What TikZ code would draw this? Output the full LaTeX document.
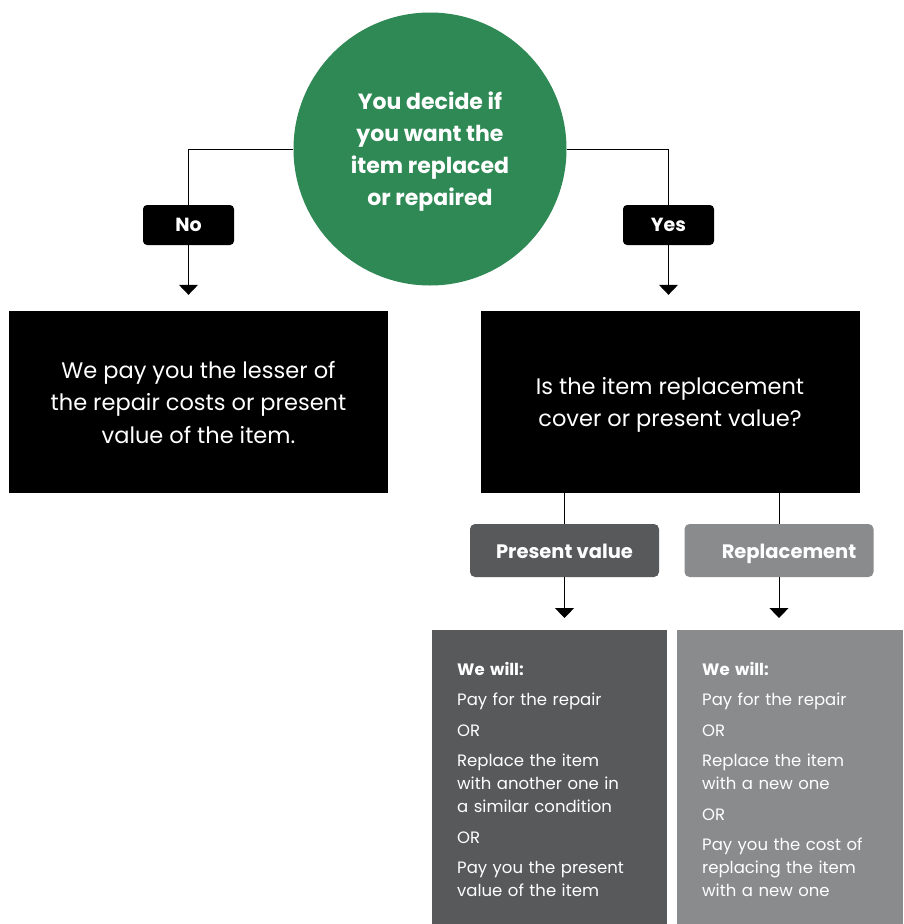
\documentclass[tikz,border=0pt]{standalone}
\usepackage{fontspec}
\setmainfont{Poppins}
\usetikzlibrary{arrows.meta,positioning}
\definecolor{decidegreen}{RGB}{46,137,84}
\definecolor{darkgrey}{RGB}{88,89,91}
\definecolor{lightgrey}{RGB}{138,139,141}

\begin{document}
\begin{tikzpicture}[x=1pt, y=-1pt,
  decision/.style={circle, fill=decidegreen, text=white, minimum size=273pt, inner sep=0pt, text depth=-0.5pt, align=center, font=\fontsize{22}{32}\selectfont\bfseries},
  answer/.style={fill=black, text=white, rounded corners=4pt, minimum width=91pt, minimum height=40pt, inner sep=0pt, font=\fontsize{19}{20}\selectfont\bfseries},
  outcome/.style={fill=black, text=white, minimum width=379pt, minimum height=182pt, inner sep=0pt, align=center, font=\fontsize{22.5}{32.5}\selectfont},
  covertag/.style={text=white, rounded corners=5pt, minimum width=189pt, minimum height=53pt, inner sep=0pt, text height=20pt, text depth=4pt, font=\fontsize{19.5}{20}\selectfont\bfseries},
  panel/.style={minimum width=235pt, minimum height=294pt, inner sep=0pt, anchor=north west},
  paneltext/.style={text=white, anchor=north west, text width=205pt, align=left, inner sep=0pt, font=\fontsize{16.5}{23}\selectfont},
  link/.style={line width=1pt},
  arr/.style={link, -{Triangle[width=19pt,length=10pt]}}
]
\useasboundingbox (0,0) rectangle (903,924);

% question and answers
\node[decision] (decide) at (430,149) {You decide if\\you want the\\item replaced\\or repaired};
\node[answer] (no) at (188.5,225) {No};
\node[answer] (yes) at (668.5,225) {Yes};

% outcomes
\node[outcome] (lesser) at (198.5,402) {We pay you the lesser of\\the repair costs or present\\value of the item.};
\node[outcome, text depth=-2pt] (cover) at (670,402) {Is the item replacement\\cover or present value?};

\node[covertag, fill=darkgrey] (present) at (564.5,550.5) {Present value};
\node[covertag, fill=lightgrey] (replace) at (779,550.5) {\hspace*{20pt}Replacement};

% what we will do
\node[panel, fill=darkgrey] (presentpanel) at (432,630) {};
\node[panel, fill=lightgrey, minimum width=226pt] (replacepanel) at (677,630) {};

\node[paneltext, below right=32pt and 25pt of presentpanel.north west] (presentlist) {%
  \textbf{We will:}\\[7.5pt]
  Pay for the repair\\[7.5pt]
  OR\\[7.5pt]
  Replace the item\\with another one in\\a similar condition\\[7.5pt]
  OR\\[7.5pt]
  Pay you the present\\value of the item};
\node[paneltext, below right=32pt and 25pt of replacepanel.north west] (replacelist) {%
  \textbf{We will:}\\[7.5pt]
  Pay for the repair\\[7.5pt]
  OR\\[7.5pt]
  Replace the item\\with a new one\\[7.5pt]
  OR\\[7.5pt]
  Pay you the cost of\\replacing the item\\with a new one};

% connectors
\draw[link] (decide.west) -| (no.north);
\draw[link] (decide.east) -| (yes.north);
\draw[arr, shorten >=16pt] (no.south) -- (lesser.north -| no.south);
\draw[arr, shorten >=16pt] (yes.south) -- (cover.north -| yes.south);
\draw[link] (present.north |- cover.south) -- (present.north);
\draw[link] (replace.north |- cover.south) -- (replace.north);
\draw[arr, shorten >=12pt] (present.south) -- (present.south |- presentpanel.north);
\draw[arr, shorten >=12pt] (replace.south) -- (replace.south |- replacepanel.north);
\end{tikzpicture}
\end{document}
